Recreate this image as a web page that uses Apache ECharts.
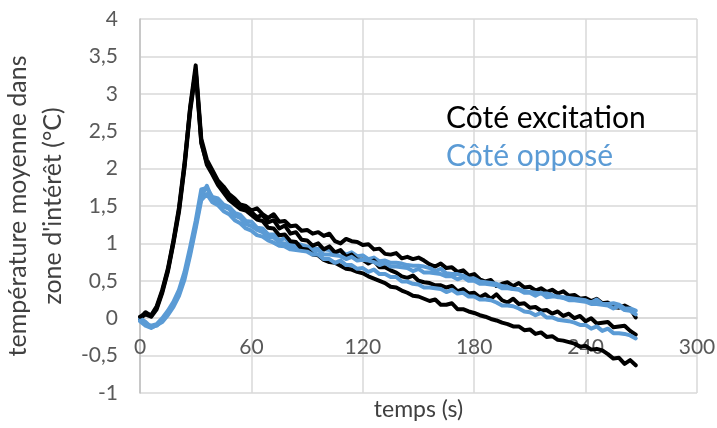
<!DOCTYPE html>
<html>
<head>
<meta charset="utf-8">
<script src="https://cdn.jsdelivr.net/npm/echarts@6/dist/echarts.min.js"></script>
<style>
  html, body { margin: 0; padding: 0; background: #fff; }
  #chart { width: 717px; height: 428px; }
</style>
</head>
<body>
<div id="chart"></div>
<script>
// temps (s)
const temps = [
  0, 3, 6, 9, 12, 15, 18, 21, 24, 27,
  30, 33, 36, 39, 42, 45, 48, 51, 54, 57,
  60, 63, 66, 69, 72, 75, 78, 81, 84, 87,
  90, 93, 96, 99, 102, 105, 108, 111, 114, 117,
  120, 123, 126, 129, 132, 135, 138, 141, 144, 147,
  150, 153, 156, 159, 162, 165, 168, 171, 174, 177,
  180, 183, 186, 189, 192, 195, 198, 201, 204, 207,
  210, 213, 216, 219, 222, 225, 228, 231, 234, 237,
  240, 243, 246, 249, 252, 255, 258, 261, 264, 267
];

// Côté excitation (noir)
const excitation1 = [
  0.00, 0.08, 0.03, 0.14, 0.36, 0.64, 1.02, 1.45, 2.05, 2.82,
  3.38, 2.40, 2.12, 1.98, 1.84, 1.76, 1.66, 1.60, 1.52, 1.50,
  1.44, 1.47, 1.39, 1.34, 1.39, 1.29, 1.30, 1.23, 1.24, 1.17,
  1.18, 1.13, 1.15, 1.10, 1.13, 1.03, 1.00, 1.06, 1.03, 1.02,
  0.98, 0.99, 0.92, 0.93, 0.86, 0.85, 0.87, 0.80, 0.82, 0.79,
  0.81, 0.77, 0.72, 0.69, 0.73, 0.67, 0.68, 0.62, 0.64, 0.57,
  0.59, 0.52, 0.49, 0.51, 0.43, 0.46, 0.48, 0.43, 0.47, 0.41,
  0.42, 0.37, 0.40, 0.35, 0.38, 0.33, 0.36, 0.30, 0.31, 0.26,
  0.27, 0.23, 0.26, 0.20, 0.21, 0.15, 0.14, 0.17, 0.13, 0.01
];
const excitation2 = [
  0.00, 0.05, 0.02, 0.12, 0.34, 0.62, 1.00, 1.42, 2.02, 2.76,
  3.30, 2.34, 2.08, 1.95, 1.80, 1.72, 1.62, 1.56, 1.50, 1.46,
  1.42, 1.35, 1.38, 1.28, 1.31, 1.20, 1.24, 1.13, 1.15, 1.05,
  1.04, 0.97, 1.00, 0.92, 0.96, 0.88, 0.91, 0.82, 0.85, 0.78,
  0.78, 0.73, 0.77, 0.68, 0.68, 0.64, 0.61, 0.56, 0.54, 0.57,
  0.50, 0.48, 0.47, 0.44, 0.44, 0.41, 0.43, 0.36, 0.39, 0.33,
  0.34, 0.28, 0.32, 0.26, 0.32, 0.24, 0.21, 0.26, 0.19, 0.20,
  0.14, 0.15, 0.10, 0.11, 0.06, 0.09, 0.03, 0.06, 0.00, 0.03,
  -0.04, 0.00, -0.07, -0.06, -0.05, -0.12, -0.11, -0.10, -0.17, -0.22
];
const excitation3 = [
  0.02, 0.06, 0.04, 0.16, 0.38, 0.66, 1.04, 1.48, 2.08, 2.80,
  3.32, 2.36, 2.05, 1.92, 1.78, 1.68, 1.58, 1.52, 1.46, 1.44,
  1.38, 1.32, 1.30, 1.21, 1.20, 1.11, 1.12, 1.03, 1.02, 0.93,
  0.92, 0.85, 0.84, 0.78, 0.75, 0.74, 0.70, 0.66, 0.65, 0.62,
  0.60, 0.56, 0.53, 0.50, 0.47, 0.42, 0.41, 0.37, 0.34, 0.30,
  0.29, 0.26, 0.23, 0.25, 0.18, 0.18, 0.20, 0.12, 0.12, 0.09,
  0.07, 0.04, 0.02, -0.01, -0.03, -0.06, -0.08, -0.11, -0.11, -0.16,
  -0.15, -0.21, -0.19, -0.25, -0.24, -0.29, -0.30, -0.32, -0.34, -0.38,
  -0.37, -0.42, -0.41, -0.43, -0.48, -0.54, -0.53, -0.61, -0.56, -0.63
];

// Côté opposé (bleu)
const oppose1 = [
  -0.02, -0.08, -0.10, -0.08, 0.00, 0.10, 0.22, 0.38, 0.62, 0.95,
  1.30, 1.72, 1.74, 1.62, 1.60, 1.52, 1.49, 1.41, 1.38, 1.30,
  1.29, 1.21, 1.20, 1.12, 1.12, 1.04, 1.07, 1.00, 1.00, 0.98,
  0.96, 0.93, 0.93, 0.92, 0.91, 0.87, 0.90, 0.85, 0.88, 0.83,
  0.84, 0.79, 0.81, 0.76, 0.77, 0.74, 0.74, 0.73, 0.71, 0.70,
  0.70, 0.69, 0.67, 0.63, 0.66, 0.60, 0.59, 0.59, 0.57, 0.53,
  0.53, 0.49, 0.48, 0.47, 0.46, 0.43, 0.42, 0.39, 0.39, 0.36,
  0.35, 0.34, 0.33, 0.33, 0.31, 0.28, 0.28, 0.27, 0.26, 0.25,
  0.24, 0.21, 0.25, 0.19, 0.19, 0.20, 0.18, 0.13, 0.13, 0.10
];
const oppose2 = [
  0.00, -0.05, -0.12, -0.10, -0.03, 0.06, 0.18, 0.33, 0.56, 0.88,
  1.24, 1.62, 1.77, 1.58, 1.56, 1.49, 1.46, 1.37, 1.34, 1.26,
  1.23, 1.18, 1.15, 1.09, 1.08, 1.01, 1.00, 0.96, 0.95, 0.91,
  0.92, 0.88, 0.91, 0.85, 0.85, 0.84, 0.83, 0.79, 0.82, 0.77,
  0.78, 0.77, 0.75, 0.71, 0.74, 0.69, 0.69, 0.68, 0.67, 0.63,
  0.66, 0.61, 0.61, 0.60, 0.59, 0.56, 0.56, 0.52, 0.55, 0.50,
  0.50, 0.46, 0.46, 0.45, 0.44, 0.40, 0.40, 0.39, 0.38, 0.34,
  0.34, 0.30, 0.34, 0.28, 0.29, 0.29, 0.27, 0.24, 0.24, 0.23,
  0.22, 0.19, 0.19, 0.18, 0.17, 0.13, 0.16, 0.11, 0.10, 0.05
];
const oppose3 = [
  -0.04, -0.10, -0.13, -0.09, -0.05, 0.04, 0.15, 0.30, 0.52, 0.84,
  1.20, 1.58, 1.66, 1.55, 1.51, 1.43, 1.39, 1.31, 1.27, 1.20,
  1.17, 1.11, 1.09, 1.04, 1.01, 0.97, 0.96, 0.92, 0.91, 0.90,
  0.89, 0.85, 0.85, 0.79, 0.79, 0.74, 0.77, 0.71, 0.71, 0.66,
  0.67, 0.62, 0.65, 0.59, 0.59, 0.55, 0.55, 0.49, 0.49, 0.46,
  0.45, 0.41, 0.41, 0.40, 0.39, 0.35, 0.38, 0.33, 0.34, 0.29,
  0.29, 0.25, 0.25, 0.24, 0.21, 0.17, 0.17, 0.16, 0.13, 0.09,
  0.08, 0.04, 0.07, 0.01, 0.01, -0.02, -0.03, -0.04, -0.06, -0.09,
  -0.09, -0.14, -0.11, -0.17, -0.14, -0.20, -0.20, -0.21, -0.23, -0.27
];

const NOIR = '#000000';
const BLEU = '#5b9bd5';
const FONT = 'Lato';

function pairs(vals) {
  return temps.map((t, i) => [t, vals[i]]);
}

function courbe(name, vals, color) {
  return {
    name: name,
    type: 'line',
    data: pairs(vals),
    showSymbol: false,
    lineStyle: { color: color, width: 4, cap: 'round', join: 'round' },
    itemStyle: { color: color }
  };
}

const chart = echarts.init(document.getElementById('chart'), null, { renderer: 'canvas' });
chart.setOption({
  animation: false,
  textStyle: { fontFamily: FONT },
  grid: { left: 140, right: 20, top: 19, bottom: 35, outerBoundsMode: 'none', containLabel: false },
  legend: {
    left: 436,
    top: 98,
    orient: 'vertical',
    icon: 'none',
    itemWidth: 0,
    itemGap: 8,
    selectedMode: false,
    textStyle: { fontFamily: FONT, fontSize: 30 },
    data: [
      { name: 'Côté excitation', textStyle: { color: NOIR } },
      { name: 'Côté opposé', textStyle: { color: BLEU } }
    ]
  },
  xAxis: {
    type: 'value',
    min: 0, max: 300, interval: 60,
    // l'axe horizontal croise en 0 (Excel) : décalé de -1 à 0 sur l'échelle
    offset: -75,
    name: 'temps (s)',
    nameLocation: 'middle',
    nameGap: 80,
    nameTextStyle: { color: '#404040', fontSize: 23, fontFamily: FONT },
    axisLine: { onZero: false, lineStyle: { color: '#d9d9d9', width: 1.5 } },
    axisTick: { show: false },
    axisLabel: { color: '#595959', fontSize: 21, margin: 19, fontFamily: FONT },
    splitLine: { show: true, lineStyle: { color: '#d9d9d9', width: 1.5 } }
  },
  yAxis: {
    type: 'value',
    min: -1, max: 4, interval: 0.5,
    name: 'température moyenne dans\nzone d\'intérêt (°C)',
    nameLocation: 'middle',
    nameGap: 62,
    nameTextStyle: { color: '#404040', fontSize: 25, lineHeight: 35, fontFamily: FONT },
    axisLine: { show: true, lineStyle: { color: '#bfbfbf', width: 1.5 } },
    axisTick: { show: false },
    axisLabel: {
      color: '#595959', fontSize: 21, margin: 22, fontFamily: FONT,
      formatter: v => String(v).replace('.', ',')
    },
    splitLine: { show: true, lineStyle: { color: '#d9d9d9', width: 1.5 } }
  },
  series: [
    courbe('Côté excitation', excitation1, NOIR),
    courbe('Côté opposé', oppose1, BLEU),
    courbe('Côté excitation', excitation2, NOIR),
    courbe('Côté opposé', oppose2, BLEU),
    courbe('Côté excitation', excitation3, NOIR),
    courbe('Côté opposé', oppose3, BLEU)
  ]
});
window.addEventListener('resize', () => chart.resize());
</script>
</body>
</html>
